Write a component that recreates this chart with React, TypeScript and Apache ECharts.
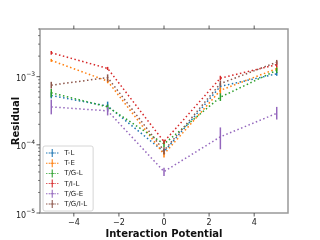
import React, { useEffect, useRef } from "react";
import * as echarts from "echarts";

const X = [-5, -2.5, 0, 2.5, 5];
const names = ["T-L", "T-E", "T/G-L", "T/I-L", "T/G-E", "T/G/I-L"];
const colors = ["#1f77b4", "#ff7f0e", "#2ca02c", "#d62728", "#9467bd", "#8c564b"];

const tL = [5.3e-4, 3.7e-4, 7.9e-5, 7.2e-4, 1.1e-3];
const tE = [1.73e-3, 8.6e-4, 7.3e-5, 6.3e-4, 1.31e-3];
const tgL = [5.8e-4, 3.6e-4, 1.03e-4, 5.0e-4, 1.24e-3];
const tiL = [2.24e-3, 1.32e-3, 1.11e-4, 9.5e-4, 1.5e-3];
const tgE = [3.6e-4, 3.15e-4, 4.05e-5, 1.31e-4, 2.9e-4];
const tgiL = [7.5e-4, 9.7e-4, 8.2e-5, 7.9e-4, 1.63e-3];

const tLLo = [4.8e-4, 3.2e-4, 7.2e-5, 6.6e-4, 1.03e-3];
const tLHi = [5.9e-4, 4.3e-4, 8.7e-5, 7.8e-4, 1.18e-3];
const tELo = [1.65e-3, 8.0e-4, 6.5e-5, 5.6e-4, 1.22e-3];
const tEHi = [1.82e-3, 9.2e-4, 8.1e-5, 7.0e-4, 1.4e-3];
const tgLLo = [5.0e-4, 3.3e-4, 9.2e-5, 4.4e-4, 1.13e-3];
const tgLHi = [6.6e-4, 3.9e-4, 1.14e-4, 5.7e-4, 1.36e-3];
const tiLLo = [2.1e-3, 1.25e-3, 1.03e-4, 8.8e-4, 1.38e-3];
const tiLHi = [2.38e-3, 1.39e-3, 1.19e-4, 1.03e-3, 1.68e-3];
const tgELo = [2.8e-4, 2.7e-4, 3.5e-5, 8.6e-5, 2.35e-4];
const tgEHi = [4.6e-4, 3.6e-4, 4.6e-5, 1.8e-4, 3.6e-4];
const tgiLLo = [6.7e-4, 8.5e-4, 7.3e-5, 7.2e-4, 1.5e-3];
const tgiLHi = [8.4e-4, 1.08e-3, 9.2e-5, 8.7e-4, 1.76e-3];

const values = [tL, tE, tgL, tiL, tgE, tgiL];
const lows = [tLLo, tELo, tgLLo, tiLLo, tgELo, tgiLLo];
const highs = [tLHi, tEHi, tgLHi, tiLHi, tgEHi, tgiLHi];

const xTicks = [-4, -2, 0, 2, 4];
const yMajor = [1e-5, 1e-4, 1e-3];
const xMin = -5.5;
const xMax = 5.5;
const yMin = 1e-5;
const yMax = 5e-3;

const legendIcon =
  "path://M0,4h1.6v1h-1.6z M3,4h1.6v1h-1.6z M9.4,4h1.6v1h-1.6z M12.4,4h1.6v1h-1.6z M6.4,0h1.2v9h-1.2z M5,4h4v1h-4z";

export default function App() {
  const ref = useRef<HTMLDivElement>(null);
  useEffect(() => {
    if (!ref.current) return;
    const chart = echarts.init(ref.current, null, { renderer: "svg" });

    const yMinor: number[] = [];
    for (let e = -5; e <= -3; e++) {
      for (let k = 2; k <= 9; k++) {
        const v = k * Math.pow(10, e);
        if (v <= yMax) yMinor.push(v);
      }
    }

    const series: any[] = [];
    names.forEach((name, i) => {
      series.push({
        name,
        type: "line",
        data: X.map((x, j) => [x, values[i][j]]),
        symbol: "none",
        color: colors[i],
        lineStyle: { color: colors[i], width: 1.5, type: [1.5, 2.5] },
        z: 2 + i,
      });
      series.push({
        name,
        type: "custom",
        data: X.map((x, j) => [x, lows[i][j], highs[i][j]]),
        color: colors[i],
        z: 2 + i,
        renderItem: (params: any, api: any) => {
          const p1 = api.coord([api.value(0), api.value(1)]);
          const p2 = api.coord([api.value(0), api.value(2)]);
          return {
            type: "line",
            shape: { x1: p1[0], y1: p1[1], x2: p2[0], y2: p2[1] },
            style: { stroke: colors[i], lineWidth: 1.5 },
          };
        },
      });
    });

    series.push({
      type: "custom",
      silent: true,
      clip: false,
      z: 10,
      data: [[0, 1e-4]],
      renderItem: (params: any, api: any) => {
        const children: any[] = [];
        const tickColor = "#333";
        xTicks.forEach((t) => {
          const pb = api.coord([t, yMin]);
          const pt = api.coord([t, yMax]);
          children.push({ type: "line", shape: { x1: pb[0], y1: pb[1], x2: pb[0], y2: pb[1] + 3.5 }, style: { stroke: tickColor, lineWidth: 0.8 } });
          children.push({ type: "line", shape: { x1: pt[0], y1: pt[1], x2: pt[0], y2: pt[1] - 3.5 }, style: { stroke: tickColor, lineWidth: 0.8 } });
        });
        yMajor.forEach((t) => {
          const p = api.coord([xMin, t]);
          children.push({ type: "line", shape: { x1: p[0], y1: p[1], x2: p[0] - 3.5, y2: p[1] }, style: { stroke: tickColor, lineWidth: 0.8 } });
        });
        yMinor.forEach((t) => {
          const p = api.coord([xMin, t]);
          children.push({ type: "line", shape: { x1: p[0], y1: p[1], x2: p[0] - 2, y2: p[1] }, style: { stroke: tickColor, lineWidth: 0.6 } });
        });
        return { type: "group", children };
      },
    });

    chart.setOption({
      animation: false,
      grid: {
        left: 40,
        right: 32,
        top: 29,
        bottom: 27,
        containLabel: false,
        outerBoundsMode: "none",
        show: true,
        borderColor: "#999",
        borderWidth: 1.5,
        backgroundColor: "transparent",
      },
      legend: {
        orient: "vertical",
        left: 43,
        top: 146,
        data: names.map((n) => ({ name: n, icon: legendIcon })),
        itemWidth: 14,
        itemHeight: 8,
        itemGap: 2.2,
        padding: [3, 6, 3, 3],
        borderColor: "#ccc",
        borderWidth: 0.8,
        borderRadius: 2,
        backgroundColor: "rgba(255,255,255,0.8)",
        textStyle: { fontSize: 7, color: "#222", fontFamily: "DejaVu Sans" },
      },
      xAxis: {
        type: "value",
        min: xMin,
        max: xMax,
        name: "Interaction Potential",
        nameLocation: "middle",
        nameGap: 15,
        nameMoveOverlap: false,
        nameTextStyle: { fontSize: 10, fontWeight: "bold", color: "#111", fontFamily: "DejaVu Sans" },
        splitLine: { show: false },
        axisLine: { show: false },
        axisTick: { show: false },
        axisLabel: {
          fontSize: 8,
          color: "#222",
          margin: 5,
          fontFamily: "DejaVu Sans",
          showMinLabel: false,
          showMaxLabel: false,
          formatter: (v: number) => (Number.isInteger(v) ? (v < 0 ? "−" + Math.abs(v) : String(v)) : ""),
        },
      },
      yAxis: {
        type: "log",
        logBase: 10,
        min: yMin,
        max: yMax,
        name: "Residual",
        nameLocation: "middle",
        nameGap: 20,
        nameMoveOverlap: false,
        nameTextStyle: { fontSize: 10, fontWeight: "bold", color: "#111", fontFamily: "DejaVu Sans" },
        splitLine: { show: false },
        axisLine: { show: false },
        axisTick: { show: false },
        axisLabel: {
          color: "#222",
          margin: 5,
          fontFamily: "DejaVu Sans",
          showMaxLabel: false,
          formatter: (v: number) => {
            const e = Math.log10(v);
            if (Math.abs(e - Math.round(e)) > 1e-6) return "";
            return "{b|10}{s|−" + Math.abs(Math.round(e)) + "}";
          },
          rich: {
            b: { fontSize: 8, color: "#222", fontFamily: "DejaVu Sans", verticalAlign: "bottom", lineHeight: 12 },
            s: { fontSize: 6, color: "#222", fontFamily: "DejaVu Sans", verticalAlign: "top", lineHeight: 12, padding: [0, 0, 5, 0] },
          },
        },
      },
      series,
    });
    return () => chart.dispose();
  }, []);
  return <div ref={ref} style={{ position: "fixed", left: 0, top: 0, width: 320, height: 240 }} />;
}
